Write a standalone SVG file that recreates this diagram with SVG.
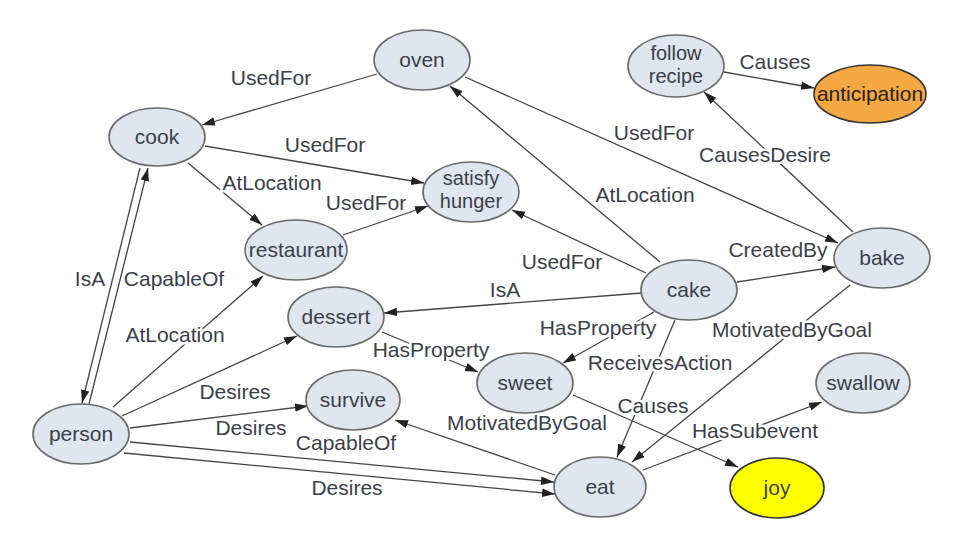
<svg xmlns="http://www.w3.org/2000/svg" width="962" height="546" viewBox="0 0 962 546">
<defs>
<marker id="ah" markerUnits="userSpaceOnUse" markerWidth="14" markerHeight="10" refX="13" refY="5" orient="auto">
<path d="M0,0.8 L13,5 L0,9.2 z" fill="#222"/>
</marker>
<style>
.n ellipse{fill:#dfe6f0;stroke:#6a6a6a;stroke-width:1.6}
.n text,.l{font-family:"Liberation Sans Narrow","Arial Narrow","Liberation Sans",sans-serif;font-size:21px;fill:#3b3f48;text-anchor:middle}
.n text.two{font-size:20px}
.l{stroke:#fff;stroke-width:5;paint-order:stroke;stroke-linejoin:round}
#edges line{stroke:#444;stroke-width:1.3;marker-end:url(#ah)}
</style>
</defs>
<rect width="962" height="546" fill="#fff"/>
<g id="edges">
<line x1="377" y1="74" x2="202" y2="125"/>
<line x1="205" y1="146" x2="424" y2="183"/>
<line x1="188" y1="163" x2="262" y2="225"/>
<line x1="343" y1="235" x2="428" y2="206"/>
<line x1="140" y1="168" x2="82" y2="403"/>
<line x1="89" y1="404" x2="148" y2="168"/>
<line x1="113" y1="407" x2="263" y2="276"/>
<line x1="122" y1="416" x2="297" y2="336"/>
<line x1="130" y1="428" x2="308" y2="406"/>
<line x1="130" y1="442" x2="554" y2="482"/>
<line x1="124" y1="453" x2="555" y2="494"/>
<line x1="382" y1="332" x2="478" y2="372"/>
<line x1="642" y1="293" x2="384" y2="313"/>
<line x1="646" y1="273" x2="512" y2="210"/>
<line x1="660" y1="262" x2="450" y2="86"/>
<line x1="465" y1="77" x2="838" y2="243"/>
<line x1="737" y1="282" x2="835" y2="267"/>
<line x1="853" y1="232" x2="704" y2="92"/>
<line x1="724" y1="72" x2="814" y2="88"/>
<line x1="654" y1="312" x2="563" y2="363"/>
<line x1="675" y1="320" x2="617" y2="457"/>
<line x1="850" y1="285" x2="632" y2="462"/>
<line x1="573" y1="395" x2="738" y2="467"/>
<line x1="643" y1="470" x2="822" y2="402"/>
<line x1="555" y1="475" x2="395" y2="420"/>
</g>
<g id="labels">
<text class="l" x="271" y="85">UsedFor</text>
<text class="l" x="325" y="152">UsedFor</text>
<text class="l" x="272" y="190">AtLocation</text>
<text class="l" x="366" y="210">UsedFor</text>
<text class="l" x="90" y="286">IsA</text>
<text class="l" x="174" y="286">CapableOf</text>
<text class="l" x="175" y="342">AtLocation</text>
<text class="l" x="235" y="399">Desires</text>
<text class="l" x="251" y="435">Desires</text>
<text class="l" x="346" y="450">CapableOf</text>
<text class="l" x="347" y="495">Desires</text>
<text class="l" x="431" y="357">HasProperty</text>
<text class="l" x="505" y="297">IsA</text>
<text class="l" x="562" y="269">UsedFor</text>
<text class="l" x="645" y="202">AtLocation</text>
<text class="l" x="654" y="140">UsedFor</text>
<text class="l" x="765" y="162">CausesDesire</text>
<text class="l" x="775" y="69">Causes</text>
<text class="l" x="778" y="257">CreatedBy</text>
<text class="l" x="598" y="335">HasProperty</text>
<text class="l" x="660" y="370">ReceivesAction</text>
<text class="l" x="792" y="337">MotivatedByGoal</text>
<text class="l" x="653" y="413">Causes</text>
<text class="l" x="755" y="438">HasSubevent</text>
<text class="l" x="527" y="430">MotivatedByGoal</text>
</g>
<g id="oven" class="n"><ellipse cx="422" cy="60" rx="48" ry="30"/><text x="422" y="67">oven</text></g>
<g id="cook" class="n"><ellipse cx="157" cy="137" rx="48" ry="29"/><text x="157" y="144">cook</text></g>
<g id="restaurant" class="n"><ellipse cx="296" cy="250" rx="51" ry="30"/><text x="296" y="257">restaurant</text></g>
<g id="satisfy_hunger" class="n"><ellipse cx="471" cy="192" rx="48" ry="30"/><text class="two" x="471" y="185">satisfy</text><text class="two" x="471" y="208">hunger</text></g>
<g id="dessert" class="n"><ellipse cx="336" cy="317" rx="48" ry="30"/><text x="336" y="324">dessert</text></g>
<g id="sweet" class="n"><ellipse cx="525" cy="383" rx="48" ry="30"/><text x="525" y="390">sweet</text></g>
<g id="cake" class="n"><ellipse cx="689" cy="290" rx="48" ry="30"/><text x="689" y="297">cake</text></g>
<g id="survive" class="n"><ellipse cx="353" cy="400" rx="47" ry="30"/><text x="353" y="407">survive</text></g>
<g id="person" class="n"><ellipse cx="81" cy="434" rx="48" ry="30"/><text x="81" y="441">person</text></g>
<g id="eat" class="n"><ellipse cx="600" cy="487" rx="46" ry="30"/><text x="600" y="494">eat</text></g>
<g id="joy" class="n"><ellipse cx="777" cy="488" rx="47" ry="30" style="fill:#ffff00;stroke:#333"/><text x="777" y="495">joy</text></g>
<g id="swallow" class="n"><ellipse cx="863" cy="383" rx="47" ry="30"/><text x="863" y="390">swallow</text></g>
<g id="bake" class="n"><ellipse cx="882" cy="258" rx="48" ry="30"/><text x="882" y="265">bake</text></g>
<g id="follow_recipe" class="n"><ellipse cx="676" cy="66" rx="48" ry="31"/><text class="two" x="676" y="60">follow</text><text class="two" x="676" y="83">recipe</text></g>
<g id="anticipation" class="n"><ellipse cx="870" cy="94" rx="56" ry="29" style="fill:#f4a844;stroke:#333"/><text x="870" y="101" style="fill:#2a2410">anticipation</text></g>
</svg>
